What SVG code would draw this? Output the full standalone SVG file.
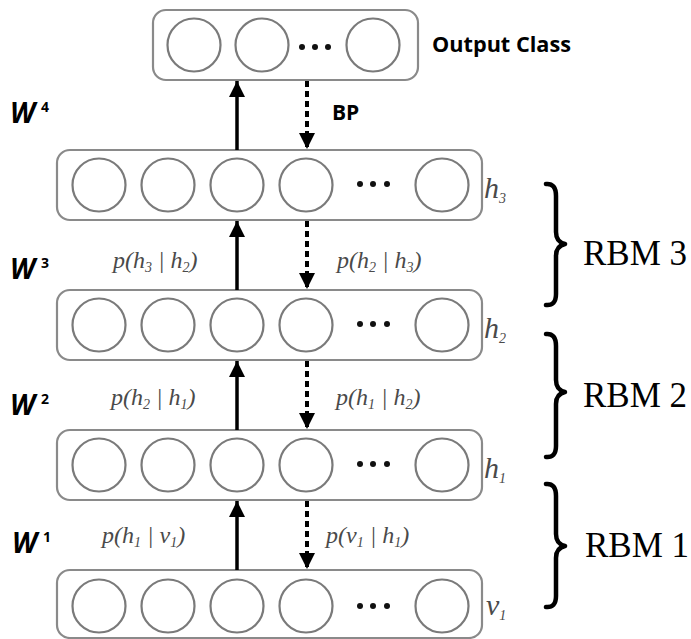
<svg xmlns="http://www.w3.org/2000/svg" width="691" height="639" viewBox="0 0 691 639">
<defs>
<style>
.box{fill:#fff;stroke:#8a8a8a;stroke-width:2.2}
.neu{fill:#fff;stroke:#7a7a7a;stroke-width:2.2}
.dot{fill:#111}
.up{stroke:#000;stroke-width:3.5;fill:none}
.dn{stroke:#000;stroke-width:4;fill:none;stroke-dasharray:6 4}
.p{font-family:"Liberation Serif","Times New Roman",serif;font-style:italic;font-size:24px;fill:#4a4a4a}
.sub{font-size:14px}
.lay{font-family:"Liberation Serif","Times New Roman",serif;font-style:italic;font-size:30px;fill:#4a4a4a}
.w{font-family:"Open Sans","Liberation Sans",sans-serif;font-style:italic;font-weight:bold;font-size:28px;fill:#000}
.ws{font-style:normal;font-size:14px}
.b{font-family:"Open Sans","Liberation Sans",sans-serif;font-weight:bold;font-size:21px;fill:#000}
.rbm{font-family:"Liberation Serif","Times New Roman",serif;font-size:35px;fill:#000}
.brace{fill:none;stroke:#000;stroke-width:4.5;stroke-linecap:round;stroke-linejoin:round}
</style>
<marker id="ah" viewBox="0 0 10 10" refX="10" refY="5" markerWidth="16" markerHeight="16" markerUnits="userSpaceOnUse" orient="auto">
<path d="M0,0 L10,5 L0,10 z" fill="#000"/>
</marker>
</defs>

<g id="output">
<rect class="box" x="153" y="10" width="265" height="70" rx="13"/>
<circle class="neu" cx="194" cy="45" r="26.5"/>
<circle class="neu" cx="262" cy="45" r="26.5"/>
<circle class="dot" cx="302" cy="47" r="3"/>
<circle class="dot" cx="315" cy="47" r="3"/>
<circle class="dot" cx="328" cy="47" r="3"/>
<circle class="neu" cx="373" cy="45" r="26.5"/>
<text class="b" x="432" y="52" textLength="139" lengthAdjust="spacingAndGlyphs">Output Class</text>
</g>

<g id="h3">
<rect class="box" x="57" y="150" width="425" height="70" rx="13"/>
<circle class="neu" cx="99" cy="185" r="26.5"/>
<circle class="neu" cx="168" cy="185" r="26.5"/>
<circle class="neu" cx="237" cy="185" r="26.5"/>
<circle class="neu" cx="306" cy="185" r="26.5"/>
<circle class="dot" cx="360" cy="184" r="3"/>
<circle class="dot" cx="373" cy="184" r="3"/>
<circle class="dot" cx="387" cy="184" r="3"/>
<circle class="neu" cx="442" cy="185" r="26.5"/>
<text class="lay" x="484" y="198">h<tspan class="sub" dy="5">3</tspan></text>
</g>

<g id="h2">
<rect class="box" x="57" y="290" width="425" height="70" rx="13"/>
<circle class="neu" cx="99" cy="325" r="26.5"/>
<circle class="neu" cx="168" cy="325" r="26.5"/>
<circle class="neu" cx="237" cy="325" r="26.5"/>
<circle class="neu" cx="306" cy="325" r="26.5"/>
<circle class="dot" cx="360" cy="324" r="3"/>
<circle class="dot" cx="373" cy="324" r="3"/>
<circle class="dot" cx="387" cy="324" r="3"/>
<circle class="neu" cx="442" cy="325" r="26.5"/>
<text class="lay" x="484" y="338">h<tspan class="sub" dy="5">2</tspan></text>
</g>

<g id="h1">
<rect class="box" x="57" y="430" width="425" height="70" rx="13"/>
<circle class="neu" cx="99" cy="465" r="26.5"/>
<circle class="neu" cx="168" cy="465" r="26.5"/>
<circle class="neu" cx="237" cy="465" r="26.5"/>
<circle class="neu" cx="306" cy="465" r="26.5"/>
<circle class="dot" cx="360" cy="464" r="3"/>
<circle class="dot" cx="373" cy="464" r="3"/>
<circle class="dot" cx="387" cy="464" r="3"/>
<circle class="neu" cx="442" cy="465" r="26.5"/>
<text class="lay" x="484" y="478">h<tspan class="sub" dy="5">1</tspan></text>
</g>

<g id="v1">
<rect class="box" x="57" y="570" width="425" height="68" rx="13"/>
<circle class="neu" cx="99" cy="606" r="26.5"/>
<circle class="neu" cx="168" cy="606" r="26.5"/>
<circle class="neu" cx="237" cy="606" r="26.5"/>
<circle class="neu" cx="306" cy="606" r="26.5"/>
<circle class="dot" cx="360" cy="606" r="3"/>
<circle class="dot" cx="373" cy="606" r="3"/>
<circle class="dot" cx="387" cy="606" r="3"/>
<circle class="neu" cx="442" cy="606" r="26.5"/>
<text class="lay" x="486" y="615">v<tspan class="sub" dy="5">1</tspan></text>
</g>

<g id="connectors">
<line class="up" x1="237" y1="150" x2="237" y2="81" marker-end="url(#ah)"/>
<line class="dn" x1="307" y1="81" x2="307" y2="149" marker-end="url(#ah)"/>
<line class="up" x1="237" y1="290" x2="237" y2="221" marker-end="url(#ah)"/>
<line class="dn" x1="307" y1="221" x2="307" y2="289" marker-end="url(#ah)"/>
<line class="up" x1="237" y1="430" x2="237" y2="361" marker-end="url(#ah)"/>
<line class="dn" x1="307" y1="361" x2="307" y2="429" marker-end="url(#ah)"/>
<line class="up" x1="237" y1="570" x2="237" y2="501" marker-end="url(#ah)"/>
<line class="dn" x1="307" y1="501" x2="307" y2="569" marker-end="url(#ah)"/>
</g>

<g id="labels">
<text class="b" x="332" y="120">BP</text>
<text class="w" x="10" y="123">W<tspan class="ws" dx="6" dy="-11">4</tspan></text>
<text class="w" x="10" y="279">W<tspan class="ws" dx="6" dy="-11">3</tspan></text>
<text class="w" x="10" y="415">W<tspan class="ws" dx="6" dy="-11">2</tspan></text>
<text class="w" x="12" y="553">W<tspan class="ws" dx="6" dy="-11">1</tspan></text>

<text class="p" x="113" y="268">p(h<tspan class="sub" dy="4">3</tspan><tspan dy="-4"> | h</tspan><tspan class="sub" dy="4">2</tspan><tspan dy="-4">)</tspan></text>
<text class="p" x="337" y="268">p(h<tspan class="sub" dy="4">2</tspan><tspan dy="-4"> | h</tspan><tspan class="sub" dy="4">3</tspan><tspan dy="-4">)</tspan></text>
<text class="p" x="111" y="405">p(h<tspan class="sub" dy="4">2</tspan><tspan dy="-4"> | h</tspan><tspan class="sub" dy="4">1</tspan><tspan dy="-4">)</tspan></text>
<text class="p" x="336" y="405">p(h<tspan class="sub" dy="4">1</tspan><tspan dy="-4"> | h</tspan><tspan class="sub" dy="4">2</tspan><tspan dy="-4">)</tspan></text>
<text class="p" x="102" y="543">p(h<tspan class="sub" dy="4">1</tspan><tspan dy="-4"> | v</tspan><tspan class="sub" dy="4">1</tspan><tspan dy="-4">)</tspan></text>
<text class="p" x="326" y="543">p(v<tspan class="sub" dy="4">1</tspan><tspan dy="-4"> | h</tspan><tspan class="sub" dy="4">1</tspan><tspan dy="-4">)</tspan></text>
</g>

<g id="rbm3">
<path class="brace" d="M546,184 Q556,183 556,196 L556,232 Q556,242 565,244 Q556,246 556,256 L556,294 Q556,306 546,305"/>
<text class="rbm" x="583" y="265">RBM 3</text>
</g>
<g id="rbm2">
<path class="brace" d="M546,334 Q556,333 556,346 L556,380 Q556,390 565,392 Q556,394 556,404 L556,446 Q556,458 546,457"/>
<text class="rbm" x="583" y="407">RBM 2</text>
</g>
<g id="rbm1">
<path class="brace" d="M546,484 Q556,483 556,496 L556,534 Q556,544 565,546 Q556,548 556,558 L556,596 Q556,608 546,607"/>
<text class="rbm" x="585" y="557">RBM 1</text>
</g>
</svg>
